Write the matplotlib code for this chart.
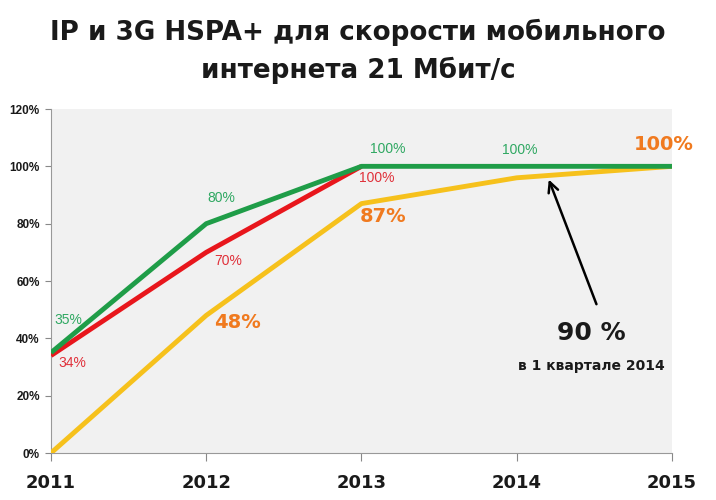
import matplotlib
matplotlib.use('Agg')
import matplotlib.pyplot as plt
from matplotlib import font_manager

years = [2011, 2012, 2013, 2014, 2015]
green_vals = [35, 80, 100, 100, 100]
red_years = [2011, 2012, 2013]
red_vals = [34, 70, 100]
yellow_vals = [0, 48, 87, 96, 100]
y_ticks = [0, 20, 40, 60, 80, 100, 120]

title_lines = ['IP и 3G HSPA+ для скорости мобильного', 'интернета 21 Мбит/с']

names = {f.name for f in font_manager.fontManager.ttflist}
NARROW = [n for n in ['Liberation Sans Narrow', 'DejaVu Sans Condensed'] if n in names] + ['DejaVu Sans']
REG = ['Liberation Sans', 'DejaVu Sans']

GREEN = '#1f9d48'
RED = '#e8161c'
YELLOW = '#f6c11c'
ORANGE = '#f07a1f'
GREEN_T = '#2fa862'
RED_T = '#e0303a'
DARK = '#1a1a1a'

fig = plt.figure(figsize=(7.16, 5.0), dpi=100)
ax = fig.add_axes([0.0712, 0.094, 0.8673, 0.688])
ax.set_facecolor('#f1f1f1')

ax.plot(years, yellow_vals, color=YELLOW, lw=3.5, solid_capstyle='butt', zorder=3)
ax.plot(red_years, red_vals, color=RED, lw=3.5, solid_capstyle='butt', zorder=4)
ax.plot(years, green_vals, color=GREEN, lw=3.5, solid_capstyle='butt', zorder=5)

ax.set_xlim(2011, 2015)
ax.set_ylim(0, 120)
ax.set_yticks(y_ticks)
ax.set_yticklabels([f'{v}%' for v in y_ticks], fontfamily=REG, fontweight='bold',
                   fontsize=8.5, color=DARK)
ax.set_xticks(years)
ax.set_xticklabels([str(y) for y in years], fontfamily=NARROW, fontweight='bold',
                   fontsize=13, color=DARK)
ax.tick_params(axis='y', length=4, color='#888888', pad=4)
ax.tick_params(axis='x', direction='out', length=6, color='#888888', pad=9)
for s in ['top', 'right']:
    ax.spines[s].set_visible(False)
for s in ['left', 'bottom']:
    ax.spines[s].set_color('#999999')

# value labels
small = dict(fontfamily=REG, fontsize=10, ha='center', va='center', zorder=6)
big = dict(fontfamily=NARROW, fontsize=14, fontweight='bold', color=ORANGE,
           ha='center', va='center', zorder=6)
ax.text(2011.11, 46.5, '35%', color=GREEN_T, **small)
ax.text(2011.14, 31.5, '34%', color=RED_T, **small)
ax.text(2012.1, 89, '80%', color=GREEN_T, **small)
ax.text(2012.14, 67, '70%', color=RED_T, **small)
ax.text(2013.17, 106, '100%', color=GREEN_T, **small)
ax.text(2013.1, 96, '100%', color=RED_T, **small)
ax.text(2014.02, 105.7, '100%', color=GREEN_T, **small)
ax.text(2012.2, 45.5, '48%', **big)
ax.text(2013.14, 82.5, '87%', **big)
ax.text(2014.95, 107.5, '100%', **big)

ax.annotate('', xy=(2014.2, 96.3), xytext=(2014.52, 51),
            arrowprops=dict(arrowstyle='->', color='black', lw=1.8, mutation_scale=18),
            zorder=7)
ax.text(2014.48, 42, '90 %', fontfamily=NARROW, fontsize=18, fontweight='bold',
        ha='center', va='center', color=DARK)
ax.text(2014.48, 30.5, 'в 1 квартале 2014', fontfamily=NARROW, fontsize=10,
        fontweight='bold', ha='center', va='center', color=DARK)
for t in ax.texts:
    t.set_clip_on(False)

# title: two lines placed where the original has them
t1 = fig.text(0.5, 1 - 32 / 500, title_lines[0], fontfamily=NARROW, fontsize=24,
              fontweight='bold', ha='center', va='center', color=DARK)
t2 = fig.text(0.5, 1 - 70 / 500, title_lines[1], fontfamily=NARROW, fontsize=24,
              fontweight='bold', ha='center', va='center', color=DARK)
renderer = fig.canvas.get_renderer()
w = t1.get_window_extent(renderer).width
if w > 615:
    size = 24 * 615 / w
    t1.set_fontsize(size)
    t2.set_fontsize(size)

fig.savefig('out.png', dpi=100)
